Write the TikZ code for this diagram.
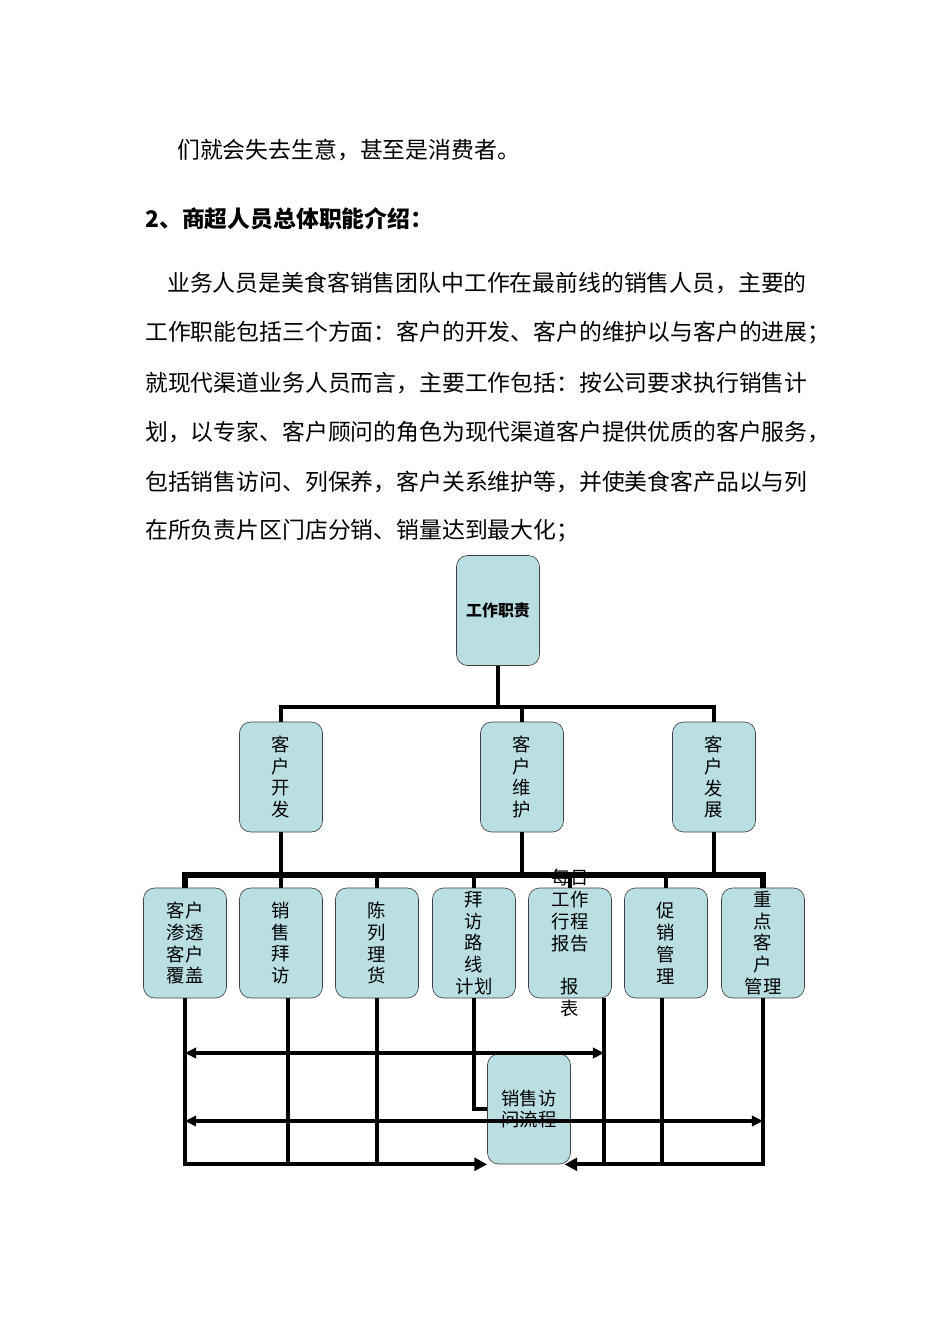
\documentclass[tikz,border=0pt]{standalone}
\usepackage{fontspec}
\setmainfont{Noto Sans CJK SC}
\usetikzlibrary{arrows.meta}
\definecolor{dutyblue}{RGB}{186,223,227}
\tikzset{para/.style={anchor=west,inner sep=0pt,font=\fontsize{14.3pt}{16pt}\selectfont},
    dutybox/.style={draw=black!75,fill=dutyblue,rounded corners=7pt,inner sep=0pt,
        minimum width=52pt,minimum height=68.9pt,align=center,
        font=\fontsize{11.5pt}{13.7pt}\selectfont},
    dutytext/.style={inner sep=0pt,align=center,font=\fontsize{11.5pt}{13.7pt}\selectfont},
    trunk/.style={line width=2.4pt},
    busline/.style={line width=3.2pt},
    feed/.style={line width=2pt},
    into/.style={line width=2.4pt,-{Triangle[length=8pt,width=8pt]}},
    twoway/.style={line width=2pt,{Triangle[length=7pt,width=6.5pt]}-{Triangle[length=7pt,width=6.5pt]}}}
\begin{document}
\begin{tikzpicture}[x=0.6262pt,y=-0.6262pt]
\useasboundingbox (0,0) rectangle (950,1344);
\node[para] (l1) at (177,150) {们就会失去生意，甚至是消费者。};
\node[para,font=\bfseries\fontsize{14.3pt}{16pt}\selectfont] (head) at (145,219) {2、商超人员总体职能介绍：};
\node[para] (p1) at (167,283) {业务人员是美食客销售团队中工作在最前线的销售人员，主要的};
\node[para] (p2) at (145,333) {工作职能包括三个方面：客户的开发、客户的维护以与客户的进展；};
\node[para] (p3) at (145,383) {就现代渠道业务人员而言，主要工作包括：按公司要求执行销售计};
\node[para] (p4) at (145,432) {划，以专家、客户顾问的角色为现代渠道客户提供优质的客户服务，};
\node[para] (p5) at (145,482) {包括销售访问、列保养，客户关系维护等，并使美食客产品以与列};
\node[para] (p6) at (145,531) {在所负责片区门店分销、销量达到最大化；};

\node[dutybox,font=\bfseries\fontsize{10pt}{12pt}\selectfont] (duty) at (498,610.5) {工作职责};
\node[dutybox] (dev) at (281,777) {客\\户\\开\\发};
\node[dutybox] (keep) at (522,777) {客\\户\\维\\护};
\node[dutybox] (grow) at (714,777) {客\\户\\发\\展};

\node[dutybox] (cover) at (185,943) {客户\\渗透\\客户\\覆盖};
\node[dutybox] (visit) at (281,943) {销\\售\\拜\\访};
\node[dutybox] (shelf) at (377,943) {陈\\列\\理\\货};
\node[dutybox] (plan) at (474,943) {拜\\访\\路\\线\\计划};
\node[dutybox,label={[dutytext]center:{每日\\工作\\行程\\报告\\[13.7pt]报\\表}}] (report) at (570,943) {};
\node[dutybox] (promo) at (666,943) {促\\销\\管\\理};
\node[dutybox] (key) at (763,943) {重\\点\\客\\户\\管理};
\node[dutybox] (flow) at (529,1109) {销售访\\问流程};

\coordinate (topbar) at (498,707);
\coordinate (midbar) at (474,875);
\coordinate (upper) at (0,1053);
\coordinate (lower) at (0,1121);
\coordinate (visitdrop) at ([xshift=4.4pt]visit.south);
\coordinate (reportdrop) at ([xshift=21.3pt]report.south);
\coordinate (promodrop) at ([xshift=-2.5pt]promo.south);

\draw[trunk] (duty) -- (topbar);
\draw[trunk] (dev.north) |- (topbar) -| (grow.north);
\draw[trunk] (keep.north) -- (keep.north |- topbar);

\draw[busline] (cover.north) |- (midbar) -| (key.north);
\draw[trunk] (dev) -- (visit);
\draw[trunk] (keep.south) -- (keep.south |- midbar);
\draw[trunk] (grow.south) -- (grow.south |- midbar);
\draw[trunk] (shelf.north) -- (shelf.north |- midbar);
\draw[trunk] (plan.north) -- (plan.north |- midbar);
\draw[trunk] (report.north) -- (report.north |- midbar);
\draw[trunk] (promo.north) -- (promo.north |- midbar);

\draw[into] (cover.south) |- (flow.south west);
\draw[feed] (visitdrop) -- (visitdrop |- flow.south);
\draw[feed] (shelf.south) -- (shelf.south |- flow.south);
\draw[feed] (plan.south) |- (flow.west);
\draw[feed] (reportdrop) -- (reportdrop |- flow.south);
\draw[feed] (promodrop) -- (promodrop |- flow.south);
\draw[into] (key.south) |- ([xshift=-4pt]flow.south east);
\draw[twoway] (cover.south |- upper) -- (reportdrop |- upper);
\draw[twoway] (cover.south |- lower) -- (key.south |- lower);
\end{tikzpicture}
\end{document}
